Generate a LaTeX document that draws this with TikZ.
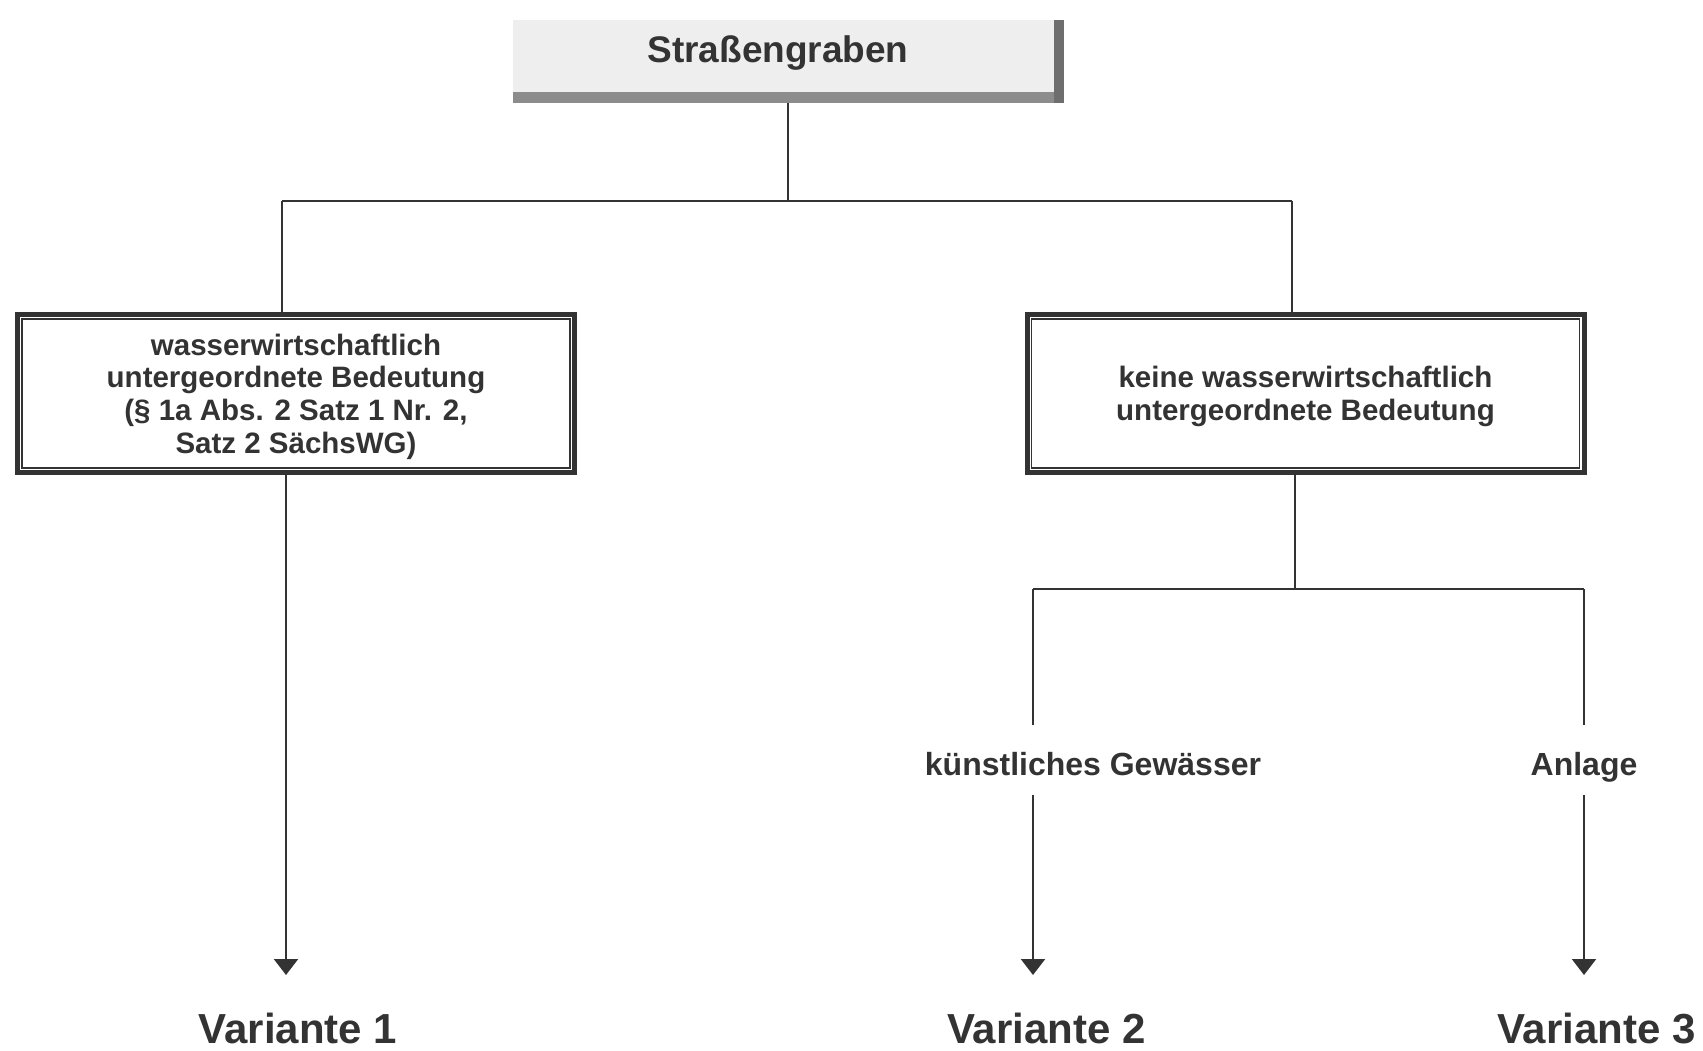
\documentclass[tikz,border=0pt]{standalone}
\usepackage{fontspec}
\setmainfont{Liberation Sans}
\usetikzlibrary{arrows.meta,calc}
\definecolor{ink}{HTML}{333333}
\definecolor{topfill}{HTML}{EEEEEE}
\definecolor{shadeR}{HTML}{6E6E6E}
\definecolor{shadeB}{HTML}{8C8C8C}
\begin{document}
\begin{tikzpicture}[x=1pt,y=-1pt,
  conn/.style={draw=ink,line width=2.2pt},
  arr/.style={conn,-{Triangle[length=16pt,width=24pt]}},
  topbox/.style={fill=topfill,inner sep=0pt,minimum width=541pt,text height=42pt,text depth=30pt,text=ink,font=\fontsize{37}{40}\selectfont\bfseries},
  decbox/.style={draw=ink,line width=5pt,fill=white,minimum width=557pt,minimum height=158pt,inner sep=0pt,align=center,text=ink,font=\fontsize{29.5}{32.6}\selectfont\bfseries},
  innerframe/.style={draw=ink,line width=1.8pt},
  lbl/.style={text=ink,inner sep=0pt,font=\fontsize{32}{36}\selectfont\bfseries},
  variant/.style={text=ink,inner sep=0pt,font=\fontsize{42}{46}\selectfont\bfseries}]
\useasboundingbox (0,0) rectangle (1703,1050);

% top box
\node[topbox] (top) at (783.5,56) {Straßengraben\kern11pt};

% junctions
\coordinate (j0) at (788,201);
\coordinate (jL) at (282,201);
\coordinate (jR) at (1292,201);

% decision boxes
\node[decbox] (L) at (296,393.5) {\rule{0pt}{27.5pt}wasserwirtschaftlich\\untergeordnete Bedeutung\\(§ 1a Abs. 2 Satz 1 Nr. 2,\\Satz 2 SächsWG)};
\node[decbox] (R) at (1305.5,393.5) {\rule{0pt}{27.5pt}keine wasserwirtschaftlich\\untergeordnete Bedeutung};
\draw[innerframe] ($(L.north west)+(7,7)$) rectangle ($(L.south east)+(-7,-7)$);
\draw[innerframe] ($(R.north west)+(7,7)$) rectangle ($(R.south east)+(-7,-7)$);

% top connectors
\draw[conn] (top.south -| j0) -- (j0);
\draw[conn] (jL) -- (jR);
\draw[conn] (jL) -- (jL |- L.north);
\draw[conn] (jR) -- (jR |- R.north);

% shadows of top box
\fill[shadeB] (top.south west) rectangle ($(top.south east)+(10,11)$);
\fill[shadeR] (top.north east) rectangle ($(top.south east)+(10,11)$);

% variant labels
\node[variant,anchor=base] (V1) at (298,1043) {Variante 1};
\node[variant,anchor=base] (V2) at (1046.5,1043) {Variante 2};
\node[variant,anchor=base] (V3) at (1596.5,1043) {Variante 3};

% left branch
\coordinate (t1) at (286,975);
\draw[arr] (L.south -| t1) -- (t1);

% right branch
\coordinate (jR2) at (1295,589);
\draw[conn] (R.south -| jR2) -- (jR2);
\coordinate (k1) at (1033,589);
\coordinate (k2) at (1584,589);
\draw[conn] (k1) -- (k2);
\coordinate (k1e) at (1033,725);
\coordinate (k2e) at (1584,725);
\draw[conn] (k1) -- (k1e);
\draw[conn] (k2) -- (k2e);

\node[lbl,anchor=base] (K) at (1093,775) {künstliches Gewässer};
\node[lbl,anchor=base] (A) at (1584,775) {Anlage};

\coordinate (k1s) at (1033,795);
\coordinate (k2s) at (1584,795);
\coordinate (t2) at (1033,975);
\coordinate (t3) at (1584,975);
\draw[arr] (k1s) -- (t2);
\draw[arr] (k2s) -- (t3);
\end{tikzpicture}
\end{document}
